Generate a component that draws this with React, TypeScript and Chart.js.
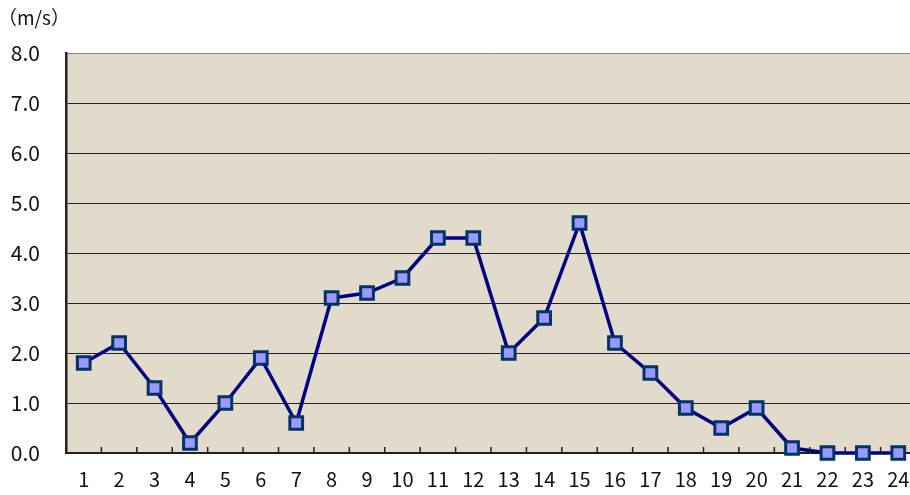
import React, { useEffect, useRef } from "react";
import { Chart, registerables } from "chart.js";

Chart.register(...registerables);

const categories = ["1","2","3","4","5","6","7","8","9","10","11","12","13","14","15","16","17","18","19","20","21","22","23","24"];
const speeds = [1.8, 2.2, 1.3, 0.2, 1.0, 1.9, 0.6, 3.1, 3.2, 3.5, 4.3, 4.3, 2.0, 2.7, 4.6, 2.2, 1.6, 0.9, 0.5, 0.9, 0.1, 0, 0, 0];
const unitLabel = "（m/s）";
const yMin = 0;
const yMax = 8;
const yStep = 1;

const FONT = "'Noto Sans CJK JP', 'DejaVu Sans', sans-serif";

const decorPlugin = {
  id: "decor",
  beforeDraw(chart: any) {
    const { ctx, chartArea } = chart;
    ctx.save();
    ctx.fillStyle = "#e2dacb";
    ctx.fillRect(chartArea.left, chartArea.top, chartArea.right - chartArea.left, chartArea.bottom - chartArea.top);
    ctx.restore();
  },
  afterDraw(chart: any) {
    const { ctx, chartArea, scales } = chart;
    const x = scales.x;
    ctx.save();
    ctx.strokeStyle = "#222";
    ctx.lineWidth = 1.5;
    const n = categories.length;
    for (let i = 0; i < n; i++) {
      const c = x.getPixelForValue(i);
      const next = i < n - 1 ? x.getPixelForValue(i + 1) : c + (c - x.getPixelForValue(i - 1));
      const bx = (c + next) / 2;
      ctx.beginPath();
      ctx.moveTo(bx, chartArea.bottom);
      ctx.lineTo(bx, chartArea.bottom - 6);
      ctx.stroke();
    }
    ctx.fillStyle = "#111";
    ctx.font = `19px ${FONT}`;
    ctx.textBaseline = "middle";
    ctx.textAlign = "left";
    ctx.fillText(unitLabel, -2, 18);
    ctx.restore();
  },
};

export default function App() {
  const ref = useRef<HTMLCanvasElement>(null);
  useEffect(() => {
    if (!ref.current) return;
    const chart = new Chart(ref.current, {
      type: "line",
      data: {
        labels: categories,
        datasets: [
          {
            data: speeds,
            borderColor: "#000080",
            borderWidth: 3.5,
            pointStyle: "rect",
            pointRadius: 9,
            pointBackgroundColor: "#9999ff",
            pointBorderColor: "#003366",
            pointBorderWidth: 3,
            tension: 0,
            clip: false as any,
          },
        ],
      },
      options: {
        animation: false,
        responsive: false,
        maintainAspectRatio: false,
        layout: { padding: { top: 53, right: 0, left: 0, bottom: 0 } },
        plugins: { legend: { display: false }, tooltip: { enabled: false }, title: { display: false } },
        scales: {
          x: {
            offset: true,
            grid: { display: false, drawTicks: false },
            border: { display: true, color: "#222", width: 2 },
            ticks: { color: "#111", font: { family: FONT, size: 20 }, padding: 14, maxRotation: 0, autoSkip: false },
            afterFit(scale: any) {
              scale.height = 42;
            },
          },
          y: {
            min: yMin,
            max: yMax,
            grid: {
              color: (c: any) => (c.tick && c.tick.value === yMax ? "#888" : "#222"),
              lineWidth: 1,
              drawTicks: false,
            },
            border: { display: true, color: "#222", width: 2.5 },
            ticks: {
              stepSize: yStep,
              color: "#111",
              font: { family: FONT, size: 21 },
              padding: 26,
              callback: (v: any) => Number(v).toFixed(1),
            },
            afterFit(scale: any) {
              scale.width = 66;
            },
          },
        },
      },
      plugins: [decorPlugin],
    });
    return () => chart.destroy();
  }, []);
  return (
    <div style={{ position: "fixed", left: 0, top: 0, width: 910, height: 495, overflow: "hidden", background: "#fff" }}>
      <canvas ref={ref} width={928} height={495} style={{ display: "block" }} />
    </div>
  );
}
